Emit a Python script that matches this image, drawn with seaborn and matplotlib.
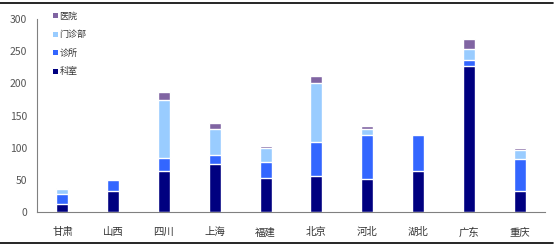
import matplotlib
matplotlib.use("Agg")
import matplotlib.pyplot as plt
import seaborn as sns
import pandas as pd
import numpy as np
from matplotlib.patches import Patch
from matplotlib.lines import Line2D

categories = ["甘肃", "山西", "四川", "上海", "福建", "北京", "河北", "湖北", "广东", "重庆"]
keshi = [12, 33, 64, 74, 53, 56, 52, 64, 227, 33]
zhensuo = [16, 16, 20, 14, 25, 53, 68, 55, 10, 50]
menzhenbu = [7, 0, 90, 41, 22, 92, 9, 0, 17, 13]
yiyuan = [2, 0, 13, 9, 3, 10, 5, 0, 15, 4]

series_names = ["科室", "诊所", "门诊部", "医院"]
colors = ["#000080", "#3366FF", "#99CCFF", "#8064A2"]

sns.set_style("white")
plt.rcParams['font.family'] = ['Noto Sans CJK SC', 'DejaVu Sans']

fig = plt.figure(figsize=(5.59, 2.47), dpi=100)
ax = fig.add_axes([37/559, 1 - 212/247, 508/559, 193/247])

vals = np.array([keshi, zhensuo, menzhenbu, yiyuan], dtype=float)
cum = np.cumsum(vals, axis=0)
for i in range(3, -1, -1):
    df = pd.DataFrame({"cat": categories, "v": cum[i]})
    sns.barplot(data=df, x="cat", y="v", color=colors[i], width=0.24,
                saturation=1, ax=ax, order=categories)

ax.set_xlim(-0.5, 9.5)
ax.set_ylim(0, 300)
ax.set_yticks([0, 50, 100, 150, 200, 250, 300])
ax.set_xlabel("")
ax.set_ylabel("")
for s in ["top", "right"]:
    ax.spines[s].set_visible(False)
for s in ["left", "bottom"]:
    ax.spines[s].set_color("#808080")
    ax.spines[s].set_linewidth(0.8)
ax.set_xticks(np.arange(10))
ax.set_xticklabels(categories, fontsize=7.5, color="#333333")
ax.set_xticks(np.arange(-0.5, 10, 1), minor=True)
ax.tick_params(axis="x", which="major", length=0, pad=11)
ax.tick_params(axis="x", which="minor", length=4, color="#808080", direction="out", width=0.8)
ax.tick_params(axis="y", length=4, color="#808080", direction="out", width=0.8,
               labelsize=7.5, labelcolor="#555555", pad=3)

handles = [Patch(facecolor=colors[i], edgecolor="none") for i in range(3, -1, -1)]
labels = [series_names[i] for i in range(3, -1, -1)]
leg = ax.legend(handles, labels, loc="upper left", bbox_to_anchor=(0.025, 1.055),
                frameon=False, fontsize=6.5, handlelength=0.5, handleheight=0.5,
                handletextpad=0.2, labelspacing=1.05, borderaxespad=0)
for t in leg.get_texts():
    t.set_color("#333333")

fig.add_artist(Line2D([0, 553/559], [1 - 3/247, 1 - 3/247], color="black", lw=1.2, transform=fig.transFigure))
fig.add_artist(Line2D([0, 553/559], [1 - 243/247, 1 - 243/247], color="black", lw=1.2, transform=fig.transFigure))

fig.savefig("out.png", dpi=100)
